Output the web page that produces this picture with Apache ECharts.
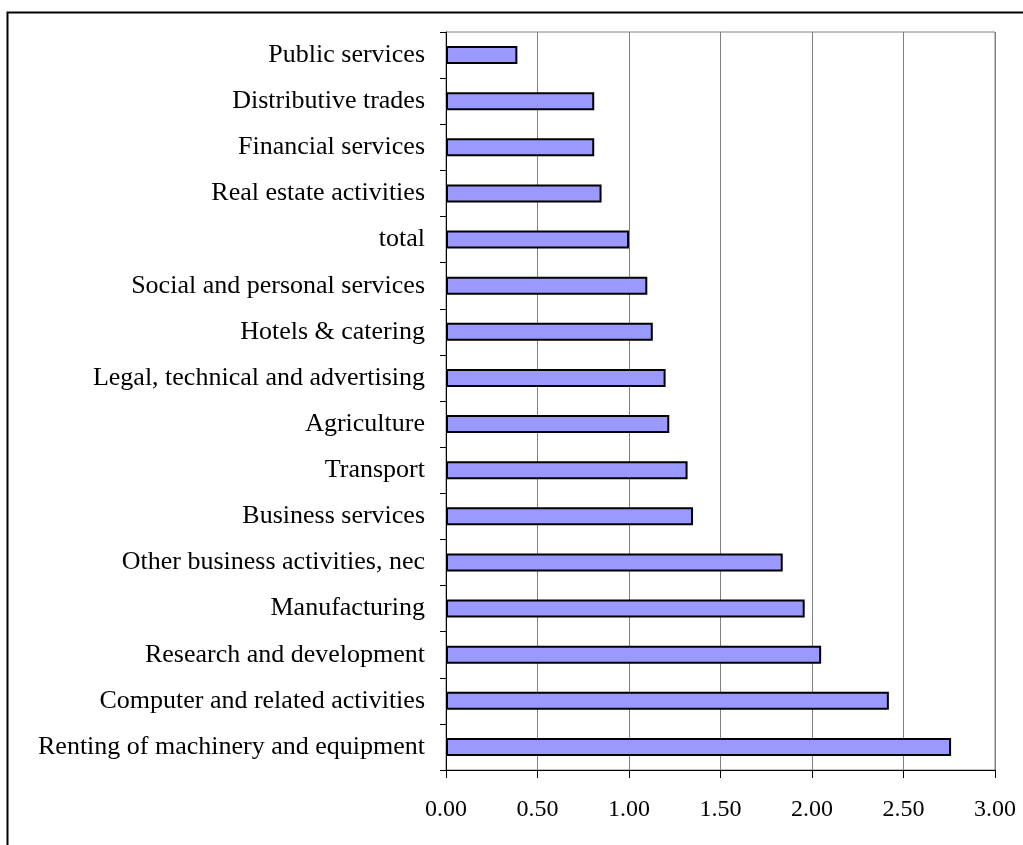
<!DOCTYPE html>
<html>
<head>
<meta charset="utf-8">
<script src="https://cdn.jsdelivr.net/npm/echarts@6/dist/echarts.min.js"></script>
<style>html,body{margin:0;padding:0;background:#fff;}#c{width:1023px;height:845px;}</style>
</head>
<body>
<div id="c"></div>
<script>
const categories = [
  "Public services",
  "Distributive trades",
  "Financial services",
  "Real estate activities",
  "total",
  "Social and personal services",
  "Hotels & catering",
  "Legal, technical and advertising",
  "Agriculture",
  "Transport",
  "Business services",
  "Other business activities, nec",
  "Manufacturing",
  "Research and development",
  "Computer and related activities",
  "Renting of machinery and equipment"
];
const values = [0.39, 0.81, 0.81, 0.85, 1.00, 1.10, 1.13, 1.20, 1.22, 1.32, 1.35, 1.84, 1.96, 2.05, 2.42, 2.76];
const xTicks = [0, 0.5, 1, 1.5, 2, 2.5, 3];

const chart = echarts.init(document.getElementById('c'), null, {renderer: 'canvas'});
const font = '"Liberation Serif", "Times New Roman", serif';
chart.setOption({
  animation: false,
  backgroundColor: '#fff',
  graphic: [{
    type: 'rect', left: 5, top: 10,
    shape: {width: 1100, height: 900},
    style: {fill: 'none', stroke: '#000', lineWidth: 2},
    silent: true, z: -10
  }],
  grid: {left: 446, right: 28, top: 32, bottom: 75, show: true, borderColor: '#808080', borderWidth: 1, backgroundColor: 'transparent'},
  xAxis: {
    type: 'value', min: xTicks[0], max: xTicks[xTicks.length - 1], interval: 0.5,
    axisLine: {show: true, lineStyle: {color: '#000', width: 1}},
    axisTick: {show: true, length: 8, lineStyle: {color: '#000'}},
    splitLine: {show: true, lineStyle: {color: '#808080', width: 1}},
    axisLabel: {color: '#000', fontFamily: font, fontSize: 24, margin: 28, formatter: v => v.toFixed(2)}
  },
  yAxis: {
    type: 'category', data: categories, inverse: true,
    axisLine: {show: true, lineStyle: {color: '#000', width: 1}},
    axisTick: {show: true, length: 6, lineStyle: {color: '#000'}},
    splitLine: {show: false},
    axisLabel: {color: '#000', fontFamily: font, fontSize: 26, margin: 21}
  },
  series: [{
    type: 'bar', data: values, barWidth: 18,
    itemStyle: {color: '#9999ff', borderColor: '#000', borderWidth: 2}
  }]
});
</script>
</body>
</html>
